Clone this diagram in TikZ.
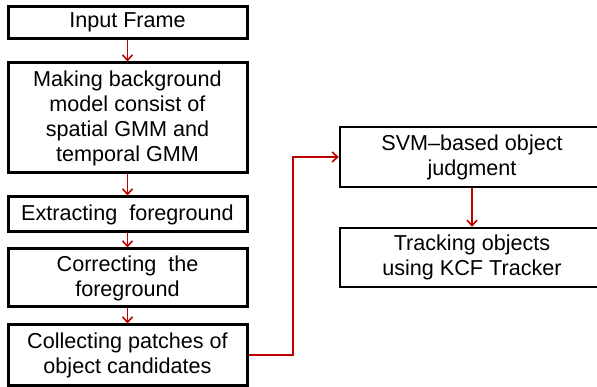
\documentclass[tikz,border=0pt]{standalone}
\usepackage{fontspec}
\setmainfont{Liberation Sans}
\usepackage{xcolor}
\usetikzlibrary{positioning,arrows.meta}
\definecolor{flowred}{RGB}{192,0,0}

\tikzset{
  stage/.style={draw, line width=3pt, align=center, inner sep=0pt,
    minimum width=239pt, font=\fontsize{21.6}{25}\selectfont},
  judge/.style={stage, line width=2.4pt, minimum width=264pt},
  flow/.style={draw=flowred, line width=1.6pt,
    -{Straight Barb[length=5.5pt,width=10pt,line width=1.6pt]}}
}

\begin{document}
\begin{tikzpicture}[x=1pt,y=1pt]
  \clip (0,0) rectangle (597,-387);
  % left column
  \node[stage, minimum height=32pt] (input) at (127.5,-22.5) {Input Frame};
  \node[stage, minimum height=110pt] (model) at (127.5,-118)
    {Making background\\model consist of\\spatial GMM and\\temporal GMM};
  \node[stage, minimum height=35pt] (extract) at (127.5,-214.5)
    {Extracting\ \ foreground};
  \node[stage, minimum height=58pt] (correct) at (127.5,-278)
    {Correcting\ \ the\\foreground};
  \node[stage, minimum height=60pt] (collect) at (127.5,-355)
    {Collecting patches of\\object candidates};
  % right column
  \node[judge, minimum height=60pt] (svm) at (472,-157)
    {SVM--based object\\judgment};
  \node[judge, minimum height=59pt] (track) at (472,-257.5)
    {Tracking objects\\using KCF Tracker};
  \coordinate (bend) at (293,0);
  % arrows
  \draw[flow] (input) -- (model);
  \draw[flow] (model) -- (extract);
  \draw[flow] (extract) -- (correct);
  \draw[flow] (correct) -- (collect);
  \draw[flow] (collect.east) -| (bend |- svm.west) -- (svm.west);
  \draw[flow] (svm) -- (track);
\end{tikzpicture}
\end{document}
